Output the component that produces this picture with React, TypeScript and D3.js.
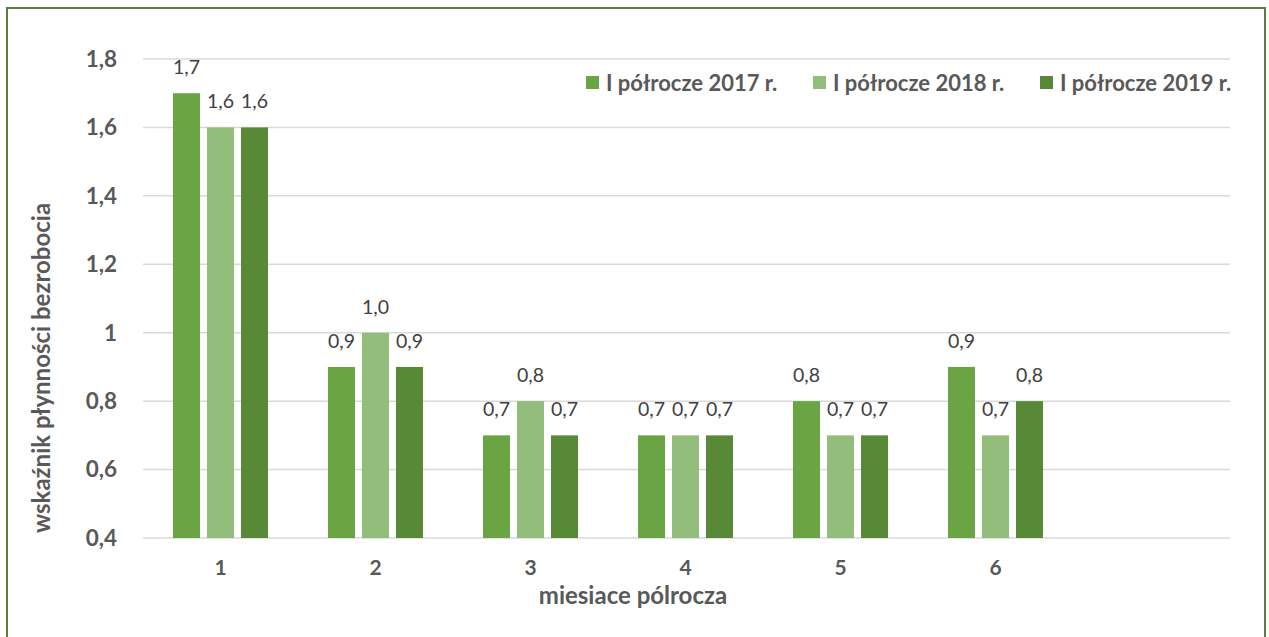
import React, {useRef, useEffect} from 'react';
import * as d3 from 'd3';

const months = ['1', '2', '3', '4', '5', '6', ''];
const seriesNames = ['I półrocze 2017 r.', 'I półrocze 2018 r.', 'I półrocze 2019 r.'];
const values2017 = [1.7, 0.9, 0.7, 0.7, 0.8, 0.9];
const values2018 = [1.6, 1.0, 0.8, 0.7, 0.7, 0.7];
const values2019 = [1.6, 0.9, 0.7, 0.7, 0.7, 0.8];
const yTicks = [0.4, 0.6, 0.8, 1, 1.2, 1.4, 1.6, 1.8];
const yTickLabels = ['0,4', '0,6', '0,8', '1', '1,2', '1,4', '1,6', '1,8'];
const colors = ['#6aa443', '#93bd7b', '#578936'];

const W = 1269;
const H = 637;
const FONT = 'Lato, "Open Sans", sans-serif';

const App: React.FC = () => {
    const ref = useRef<SVGSVGElement | null>(null);

    useEffect(() => {
        if (!ref.current) return;
        const svg = d3.select(ref.current);
        svg.selectAll('*').remove();

        const series = [values2017, values2018, values2019];
        const rows = seriesNames.map((name, i) => ({name, color: colors[i], values: series[i]}));

        const x = d3.scaleBand<string>().domain(months).range([143, 1228]);
        const inner = d3.scaleBand<string>().domain(seriesNames).range([30, 125]).paddingInner(7 / 34);
        const y = d3.scaleLinear().domain([0.4, 1.8]).range([538, 59]);

        // frame
        svg.append('rect')
            .attr('x', 7).attr('y', 8)
            .attr('width', 1258).attr('height', 640)
            .attr('fill', '#fff')
            .attr('stroke', '#5b7f3f')
            .attr('stroke-width', 2);

        // grid
        svg.append('g')
            .selectAll('line')
            .data(yTicks)
            .join('line')
            .attr('x1', 143).attr('x2', 1230)
            .attr('y1', d => y(d)).attr('y2', d => y(d))
            .attr('stroke', '#d9d9d9')
            .attr('stroke-width', 1.5);

        // y tick labels
        svg.append('g')
            .selectAll('text')
            .data(yTicks)
            .join('text')
            .attr('x', 117)
            .attr('y', d => y(d))
            .attr('dy', '0.35em')
            .attr('text-anchor', 'end')
            .attr('font-family', FONT)
            .attr('font-weight', 'bold')
            .attr('font-size', '22.5px')
            .attr('fill', '#595959')
            .text((d, i) => yTickLabels[i]);

        // x tick labels
        svg.append('g')
            .selectAll('text')
            .data(months)
            .join('text')
            .attr('x', d => (x(d) as number) + x.bandwidth() / 2)
            .attr('y', 575)
            .attr('text-anchor', 'middle')
            .attr('font-family', FONT)
            .attr('font-weight', 'bold')
            .attr('font-size', '21px')
            .attr('fill', '#595959')
            .text(d => d);

        // bars
        const groups = svg.append('g')
            .selectAll('g')
            .data(rows)
            .join('g')
            .attr('fill', d => d.color);

        groups.selectAll('rect')
            .data(d => d.values.map((v, i) => ({name: d.name, v, m: months[i]})))
            .join('rect')
            .attr('x', d => (x(d.m) as number) + (inner(d.name) as number))
            .attr('y', d => y(d.v))
            .attr('width', inner.bandwidth())
            .attr('height', d => y(0.4) - y(d.v));

        // data labels
        groups.selectAll('text')
            .data(d => d.values.map((v, i) => ({name: d.name, v, m: months[i]})))
            .join('text')
            .attr('x', d => (x(d.m) as number) + (inner(d.name) as number) + inner.bandwidth() / 2)
            .attr('y', d => y(d.v) - 19)
            .attr('text-anchor', 'middle')
            .attr('font-family', FONT)
            .attr('font-size', '19.5px')
            .attr('fill', '#404040')
            .text(d => d3.format('.1f')(d.v).replace('.', ','));

        // legend
        const lx = d3.scalePoint<string>().domain(seriesNames).range([586, 1040]);
        const legend = svg.append('g')
            .selectAll('g')
            .data(rows)
            .join('g')
            .attr('transform', d => `translate(${lx(d.name)},83)`);
        legend.append('rect')
            .attr('x', 0).attr('y', -7)
            .attr('width', 13).attr('height', 13)
            .attr('fill', d => d.color);
        legend.append('text')
            .attr('x', 20)
            .attr('dy', '0.35em')
            .attr('font-family', FONT)
            .attr('font-weight', 'bold')
            .attr('font-size', '22px')
            .attr('fill', '#595959')
            .text(d => d.name);

        // axis titles
        svg.append('text')
            .attr('x', 633).attr('y', 604)
            .attr('text-anchor', 'middle')
            .attr('font-family', FONT)
            .attr('font-weight', 'bold')
            .attr('font-size', '24px')
            .attr('fill', '#595959')
            .text('miesiace pólrocza');

        svg.append('text')
            .attr('transform', 'translate(50,368) rotate(-90)')
            .attr('text-anchor', 'middle')
            .attr('font-family', FONT)
            .attr('font-weight', 'bold')
            .attr('font-size', '24px')
            .attr('fill', '#595959')
            .text('wskaźnik płynności bezrobocia');
    }, []);

    return <svg ref={ref} width={W} height={H} style={{position: 'absolute', left: 0, top: 0}}></svg>;
};

export default App;
